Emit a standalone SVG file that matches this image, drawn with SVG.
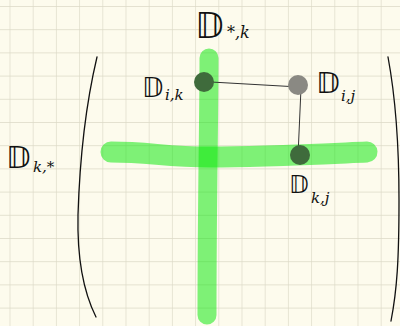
<svg xmlns="http://www.w3.org/2000/svg" width="400" height="326" viewBox="0 0 400 326">
<defs>
<pattern id="grid" x="9.5" y="6" width="23.2" height="23.2" patternUnits="userSpaceOnUse">
<path d="M0,0 H23.2 M0,0 V23.2" fill="none" stroke="#dcd9c6" stroke-width="1.3"/>
</pattern>
<style>
.hl{fill:none;stroke:rgb(0,232,0);stroke-opacity:0.5;stroke-linecap:round;stroke-linejoin:round}
.br{fill:none;stroke:#111;stroke-width:1.3;stroke-linecap:round}
.con{fill:none;stroke:#333;stroke-width:1}
.D{font-family:"DejaVu Sans",sans-serif;font-style:italic;fill:#111}
.s{font-family:"DejaVu Serif",serif;font-style:italic;fill:#111}
</style>
</defs>
<rect width="400" height="326" fill="#fdfbed"/>
<rect width="400" height="326" fill="url(#grid)"/>
<g id="brackets">
<path class="br" d="M97,57 C88,95 80,150 78,215 C77,260 85,295 96,317"/>
<path class="br" d="M388,57 C396,100 399,150 399,200 C399,260 397,290 391,321"/>
</g>
<g id="row-k">
<path class="hl" stroke-width="21" d="M111,152 C150,152 165,157 210,157 C260,157 320,154 367,152"/>
</g>
<g id="col-k">
<path class="hl" stroke-width="19" d="M209,58 C209,120 207,200 207,315"/>
</g>
<g id="connectors">
<path class="con" d="M211,82 L299,87"/>
<path class="con" d="M301,88 L298,156"/>
</g>
<g id="label-col">
<text class="D" x="195" y="38" font-size="35">𝔻</text>
<text class="s" x="227" y="38" font-size="16">*,k</text>
</g>
<g id="label-row">
<text class="D" x="6" y="168" font-size="30">𝔻</text>
<text class="s" x="33" y="172" font-size="15">k,*</text>
</g>
<g id="node-ik">
<circle cx="204" cy="82" r="10" fill="#3f6b3c"/>
<text class="D" x="142" y="97" font-size="26">𝔻</text>
<text class="s" x="165" y="100" font-size="15">i,k</text>
</g>
<g id="node-ij">
<circle cx="298" cy="85" r="10" fill="#8a8983"/>
<text class="D" x="316" y="93" font-size="29">𝔻</text>
<text class="s" x="341" y="101" font-size="15">i,j</text>
</g>
<g id="node-kj">
<circle cx="300" cy="155" r="10" fill="#3f6b3c"/>
<text class="D" x="289" y="193" font-size="24">𝔻</text>
<text class="s" x="311" y="203" font-size="15">k,j</text>
</g>
</svg>
